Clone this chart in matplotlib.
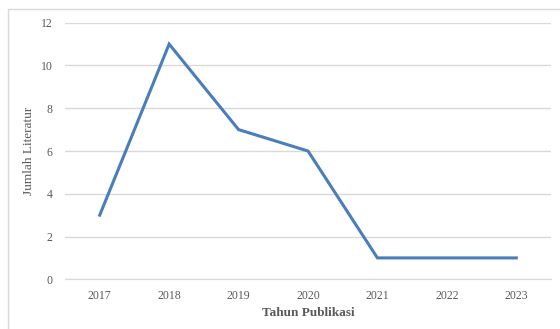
import matplotlib.pyplot as plt
from matplotlib.patches import Rectangle

years = ['2017', '2018', '2019', '2020', '2021', '2022', '2023']
jumlah = [3, 11, 7, 6, 1, 1, 1]

plt.rcParams['font.family'] = ['Liberation Serif', 'DejaVu Serif']

fig = plt.figure(figsize=(5.6, 3.29), dpi=100)
ax = fig.add_axes([65 / 560, 1 - 279.3 / 329, 486 / 560, 256.6 / 329])

# outer chart border (light grey), cut off at right and bottom
fig.patches.append(Rectangle((8 / 560, -0.1), 1.2, 1 - 9 / 329 + 0.1,
                             transform=fig.transFigure, fill=False,
                             edgecolor='#D9D9D9', linewidth=1))

x = range(len(years))
ax.plot(x, jumlah, color='#4A7EBB', linewidth=2.2, solid_joinstyle='miter')

ax.set_xlim(-0.5, len(years) - 0.5)
ax.set_ylim(0, 12)
ax.set_yticks(range(0, 13, 2))
ax.set_xticks(list(x))
ax.set_xticklabels(years)

ax.grid(axis='y', color='#D9D9D9', linewidth=1)
ax.set_axisbelow(True)
for s in ['top', 'right', 'left']:
    ax.spines[s].set_visible(False)
ax.spines['bottom'].set_color('#D9D9D9')
ax.tick_params(length=0, labelsize=8.5, colors='#595959')
ax.tick_params(axis='y', pad=9)
ax.tick_params(axis='x', pad=8)

ax.set_xlabel('Tahun Publikasi', fontsize=9.5, fontweight='bold', color='#595959', labelpad=3)
ax.set_ylabel('Jumlah Literatur', fontsize=9.5, color='#595959', labelpad=4)

fig.savefig('out.png', dpi=100)
